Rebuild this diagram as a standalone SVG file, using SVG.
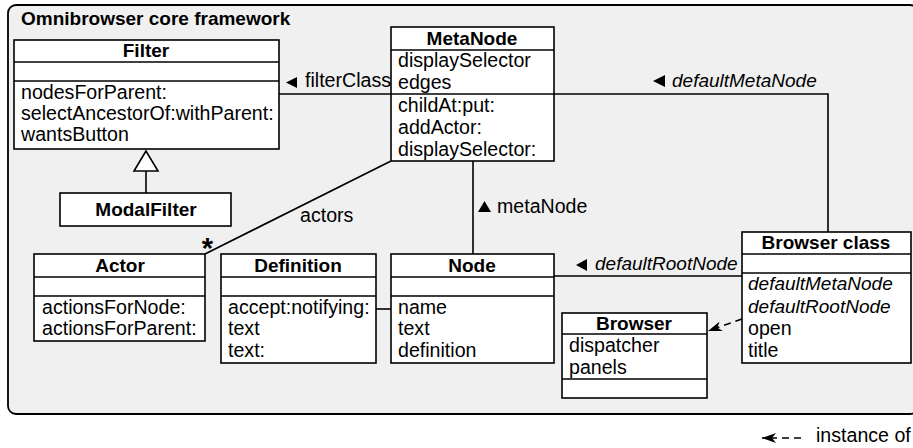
<svg xmlns="http://www.w3.org/2000/svg" width="913" height="448" viewBox="0 0 913 448">
  <style>
    text { font-family: "Liberation Sans", Arial, Helvetica, sans-serif; font-size: 19.6px; fill: #000; }
    .b { font-weight: bold; font-size: 19px; }
    .i { font-style: italic; font-size: 19px; }
    .c { text-anchor: middle; }
    .box { fill: #fff; stroke: #000; stroke-width: 1.6; }
    .sep { stroke: #000; stroke-width: 1.6; }
    .edge { fill: none; stroke: #000; stroke-width: 1.6; }
    .dash { fill: none; stroke: #000; stroke-width: 1.6; stroke-dasharray: 7 5; }
  </style>
  <defs>
    <marker id="inst" viewBox="0 0 14 10" refX="14" refY="5" markerWidth="14" markerHeight="10" markerUnits="userSpaceOnUse" orient="auto">
      <path d="M14,5 L0,0 L4,5 L0,10 Z" fill="#000"/>
    </marker>
  </defs>

  <!-- package frame -->
  <g id="package">
    <rect x="8" y="5" width="910" height="409" rx="8" fill="#f0f0f0" stroke="#000" stroke-width="1.8"/>
    <text class="b" x="21" y="25">Omnibrowser core framework</text>
  </g>

  <!-- connectors -->
  <g id="connectors">
    <line class="edge" x1="279" y1="94" x2="391" y2="94"/>
    <polyline class="edge" points="554,94 828,94 828,232"/>
    <line class="edge" x1="473" y1="161" x2="473" y2="254"/>
    <line class="edge" x1="391" y1="161" x2="205" y2="254"/>
    <line class="edge" x1="376" y1="309" x2="391" y2="309"/>
    <line class="edge" x1="554" y1="276" x2="742" y2="276"/>
    <line class="edge" x1="146" y1="171" x2="146" y2="193"/>
    <polygon points="146,151 134,171 158,171" fill="#fff" stroke="#000" stroke-width="1.6"/>
    <line class="dash" x1="742" y1="319" x2="708" y2="331" marker-end="url(#inst)"/>

    <polygon points="286,82.5 297,77 297,88" fill="#000"/>
    <text x="305" y="87">filterClass</text>
    <polygon points="653,81 665,75 665,87" fill="#000"/>
    <text class="i" x="672" y="87">defaultMetaNode</text>
    <polygon points="478,212 484.5,201 491,212" fill="#000"/>
    <text x="497" y="213">metaNode</text>
    <polygon points="576,265 587,259 587,271" fill="#000"/>
    <text class="i" x="595" y="270">defaultRootNode</text>
    <text x="300" y="222">actors</text>
    <text class="b c" x="207.5" y="258" style="font-size:29px">*</text>
  </g>

  <!-- Filter -->
  <g id="Filter">
    <rect class="box" x="14" y="40" width="265" height="109"/>
    <line class="sep" x1="14" y1="62" x2="279" y2="62"/>
    <line class="sep" x1="14" y1="81" x2="279" y2="81"/>
    <text class="b c" x="146" y="57">Filter</text>
    <text x="21" y="99">nodesForParent:</text>
    <text x="21" y="120">selectAncestorOf:withParent:</text>
    <text x="21" y="141">wantsButton</text>
  </g>

  <!-- ModalFilter -->
  <g id="ModalFilter">
    <rect class="box" x="60" y="193" width="171" height="33"/>
    <text class="b c" x="146" y="216">ModalFilter</text>
  </g>

  <!-- MetaNode -->
  <g id="MetaNode">
    <rect class="box" x="391" y="27" width="163" height="134"/>
    <line class="sep" x1="391" y1="50" x2="554" y2="50"/>
    <line class="sep" x1="391" y1="94" x2="554" y2="94"/>
    <text class="b c" x="472" y="45">MetaNode</text>
    <text x="398" y="67">displaySelector</text>
    <text x="398" y="89">edges</text>
    <text x="398" y="112">childAt:put:</text>
    <text x="398" y="134">addActor:</text>
    <text x="398" y="156">displaySelector:</text>
  </g>

  <!-- Actor -->
  <g id="Actor">
    <rect class="box" x="34" y="254" width="171" height="87"/>
    <line class="sep" x1="34" y1="277" x2="205" y2="277"/>
    <line class="sep" x1="34" y1="296" x2="205" y2="296"/>
    <text class="b c" x="120" y="272">Actor</text>
    <text x="42" y="314">actionsForNode:</text>
    <text x="42" y="335">actionsForParent:</text>
  </g>

  <!-- Definition -->
  <g id="Definition">
    <rect class="box" x="221" y="254" width="155" height="109"/>
    <line class="sep" x1="221" y1="277" x2="376" y2="277"/>
    <line class="sep" x1="221" y1="296" x2="376" y2="296"/>
    <text class="b c" x="298" y="272">Definition</text>
    <text x="228" y="314">accept:notifying:</text>
    <text x="228" y="335">text</text>
    <text x="228" y="357">text:</text>
  </g>

  <!-- Node -->
  <g id="Node">
    <rect class="box" x="391" y="254" width="163" height="109"/>
    <line class="sep" x1="391" y1="277" x2="554" y2="277"/>
    <line class="sep" x1="391" y1="296" x2="554" y2="296"/>
    <text class="b c" x="472" y="272">Node</text>
    <text x="398" y="314">name</text>
    <text x="398" y="335">text</text>
    <text x="398" y="357">definition</text>
  </g>

  <!-- Browser class -->
  <g id="BrowserClass">
    <rect class="box" x="742" y="232" width="169" height="131"/>
    <line class="sep" x1="742" y1="254" x2="911" y2="254"/>
    <line class="sep" x1="742" y1="273" x2="911" y2="273"/>
    <text class="b c" x="826" y="249">Browser class</text>
    <text class="i" x="748" y="290">defaultMetaNode</text>
    <text class="i" x="748" y="313">defaultRootNode</text>
    <text x="748" y="335">open</text>
    <text x="748" y="357">title</text>
  </g>

  <!-- Browser -->
  <g id="Browser">
    <rect class="box" x="562" y="313" width="145" height="85"/>
    <line class="sep" x1="562" y1="334" x2="707" y2="334"/>
    <line class="sep" x1="562" y1="379" x2="707" y2="379"/>
    <text class="b c" x="634" y="330">Browser</text>
    <text x="569" y="352">dispatcher</text>
    <text x="569" y="374">panels</text>
  </g>

  <!-- legend -->
  <g id="legend">
    <line class="dash" x1="801" y1="438" x2="762" y2="438" marker-end="url(#inst)" stroke-dasharray="7 5"/>
    <text x="816" y="442">instance of</text>
  </g>
</svg>
